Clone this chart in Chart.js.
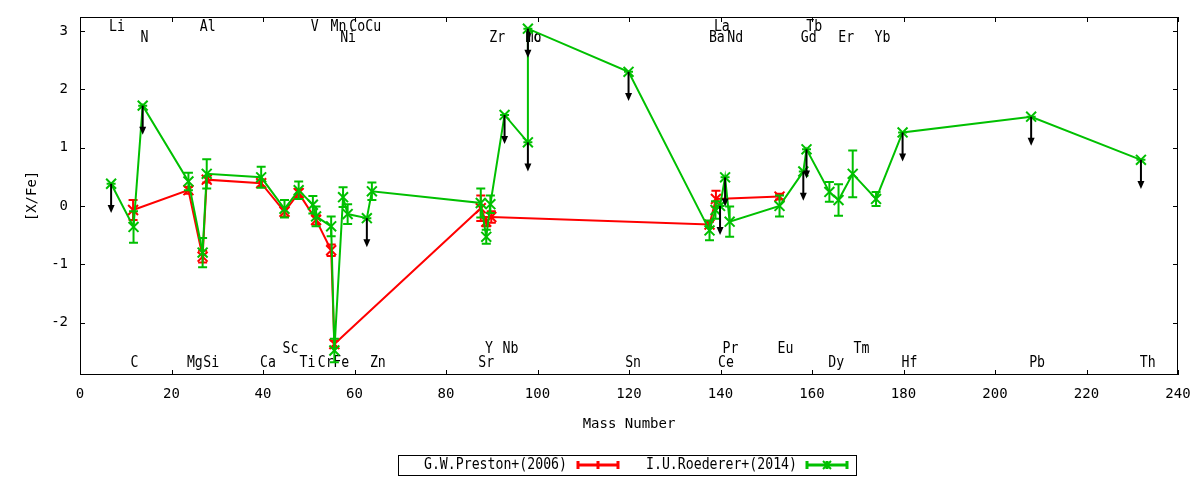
<!DOCTYPE html>
<html>
<head>
<meta charset="UTF-8">
<title>[X/Fe] vs Mass Number</title>
<script src="https://cdn.jsdelivr.net/npm/chart.js"></script>
<style>
  body { margin: 0; background: #fff; }
  #wrap { width: 1200px; height: 480px; }
</style>
</head>
<body>
<div id="wrap"><canvas id="chart"></canvas></div>
<script>
  // G.W.Preston+(2006)
  const prestonMass = [11.6, 23.7, 26.8, 27.7, 39.6, 44.7, 47.8, 51.6, 54.9, 55.6, 87.6, 88.8, 89.9, 137.6, 139.0, 152.9];
  const prestonVal  = [-0.07, 0.27, -0.87, 0.45, 0.39, -0.10, 0.22, -0.24, -0.76, -2.37, -0.04, -0.27, -0.19, -0.32, 0.12, 0.16];
  const prestonErr  = [0.17, 0.06, 0.10, 0.05, 0.06, 0.08, 0.07, 0.08, 0.10, 0.06, 0.22, 0.08, 0.10, 0.05, 0.14, 0.05];

  // I.U.Roederer+(2014)
  const roedMass  = [6.8, 11.7, 13.7, 23.7, 26.8, 27.7, 39.6, 44.7, 47.8, 50.9, 51.6, 54.9, 55.6, 57.5, 58.5, 62.7, 63.8, 87.6, 88.8, 89.7,
                     92.8, 97.9, 97.9, 119.9, 137.6, 138.9, 139.9, 141.0, 142.0, 152.9, 158.1, 158.8, 163.8, 165.8, 168.9, 174.0, 179.8, 207.9, 231.9];
  const roedVal   = [0.38, -0.36, 1.72, 0.42, -0.80, 0.55, 0.49, -0.05, 0.27, 0.02, -0.18, -0.35, -2.48, 0.15, -0.14, -0.21, 0.25, 0.05, -0.53, 0.03,
                     1.56, 1.09, 3.04, 2.30, -0.42, -0.07, 0.00, 0.49, -0.27, 0.00, 0.59, 0.97, 0.24, 0.10, 0.55, 0.12, 1.26, 1.53, 0.79];
  const roedErr   = [0, 0.27, 0, 0.15, 0.25, 0.25, 0.18, 0.15, 0.15, 0.15, 0.17, 0.17, 0.20, 0.17, 0.17, 0, 0.15, 0.25, 0.12, 0.15,
                     0, 0, 0, 0, 0.17, 0.15, 0, 0, 0.26, 0.18, 0, 0, 0.17, 0.27, 0.40, 0.12, 0, 0, 0];
  const roedUpper = [1, 0, 1, 0, 0, 0, 0, 0, 0, 0, 0, 0, 0, 0, 0, 1, 0, 0, 0, 0,
                     1, 1, 1, 1, 0, 0, 1, 1, 0, 0, 1, 1, 0, 0, 0, 0, 1, 1, 1];
  const upperArrow = 0.5;

  // element names along top and bottom of the frame
  const topNames1 = ['Li', 'Al', 'V', 'Mn', 'Co', 'Cu', 'La', 'Tb'];
  const topMass1  = [8.1, 27.9, 51.3, 56.5, 60.6, 64.1, 140.3, 160.5];
  const topNames2 = ['N', 'Ni', 'Zr', 'Mo', 'Tc', 'Ba', 'Nd', 'Gd', 'Er', 'Yb'];
  const topMass2  = [14.1, 58.6, 91.2, 99.1, 99.1, 139.2, 143.2, 159.3, 167.5, 175.4];
  const botNames1 = ['Sc', 'Y', 'Nb', 'Pr', 'Eu', 'Tm'];
  const botMass1  = [46.0, 89.4, 94.1, 142.2, 154.2, 170.8];
  const botNames2 = ['C', 'Mg', 'Si', 'Ca', 'Ti', 'Cr', 'Fe', 'Zn', 'Sr', 'Sn', 'Ce', 'Dy', 'Hf', 'Pb', 'Th'];
  const botMass2  = [11.9, 25.1, 28.7, 41.1, 49.7, 53.7, 57.1, 65.1, 88.8, 120.9, 141.2, 165.3, 181.3, 209.2, 233.4];

  const RED = '#ff0000';
  const GREEN = '#00c000';
  const MONO = "'DejaVu Sans Mono', monospace";

  function monoText(ctx, text, x, y, align) {
    ctx.save();
    ctx.translate(x, y);
    ctx.scale(0.88, 1);
    ctx.font = '15px ' + MONO;
    ctx.fillStyle = '#000';
    ctx.textAlign = align;
    ctx.textBaseline = 'middle';
    ctx.fillText(text, 0, 0);
    ctx.restore();
  }

  const frame = {
    id: 'frame',
    beforeDatasetsDraw(chart) {
      const {ctx, chartArea: a, scales: {x, y}} = chart;
      ctx.save();
      ctx.strokeStyle = '#000';
      ctx.lineWidth = 1;
      ctx.strokeRect(a.left + 0.5, a.top + 0.5, a.right - a.left - 1, a.bottom - a.top - 1);
      ctx.beginPath();
      x.ticks.forEach(t => {
        const px = Math.round(x.getPixelForValue(t.value)) + 0.5;
        ctx.moveTo(px, a.bottom); ctx.lineTo(px, a.bottom - 5);
        ctx.moveTo(px, a.top); ctx.lineTo(px, a.top + 5);
      });
      y.ticks.forEach(t => {
        const py = Math.round(y.getPixelForValue(t.value)) + 0.5;
        ctx.moveTo(a.left, py); ctx.lineTo(a.left + 5, py);
        ctx.moveTo(a.right, py); ctx.lineTo(a.right - 5, py);
      });
      ctx.stroke();
      ctx.restore();

      const rows = [
        [topNames1, topMass1, a.top + 10],
        [topNames2, topMass2, a.top + 21],
        [botNames1, botMass1, a.bottom - 26],
        [botNames2, botMass2, a.bottom - 12]
      ];
      rows.forEach(([names, mass, py]) => {
        names.forEach((n, i) => monoText(ctx, n, x.getPixelForValue(mass[i]), py, 'center'));
      });
    }
  };

  const errorBars = {
    id: 'errorBars',
    beforeDatasetDraw(chart, args) {
      const ds = chart.data.datasets[args.index];
      const {ctx, scales: {x, y}} = chart;
      ctx.save();
      ctx.strokeStyle = ds.borderColor;
      ctx.lineWidth = 2;
      ctx.beginPath();
      ds.data.forEach((p, i) => {
        const e = ds.errors[i];
        const px = x.getPixelForValue(p.x);
        const y1 = y.getPixelForValue(p.y + e);
        const y2 = y.getPixelForValue(p.y - e);
        ctx.moveTo(px, y1); ctx.lineTo(px, y2);
        ctx.moveTo(px - 4.5, y1); ctx.lineTo(px + 4.5, y1);
        ctx.moveTo(px - 4.5, y2); ctx.lineTo(px + 4.5, y2);
      });
      ctx.stroke();
      ctx.restore();
    }
  };

  const upperLimits = {
    id: 'upperLimits',
    afterDatasetsDraw(chart) {
      const {ctx, scales: {x, y}} = chart;
      ctx.save();
      ctx.strokeStyle = '#000';
      ctx.fillStyle = '#000';
      ctx.lineWidth = 2;
      roedMass.forEach((m, i) => {
        if (!roedUpper[i]) return;
        const px = x.getPixelForValue(m);
        const y0 = y.getPixelForValue(roedVal[i]);
        const y1 = y.getPixelForValue(roedVal[i] - upperArrow);
        ctx.beginPath();
        ctx.moveTo(px, y0); ctx.lineTo(px, y1 - 5);
        ctx.stroke();
        ctx.beginPath();
        ctx.moveTo(px - 3.5, y1 - 8);
        ctx.lineTo(px + 3.5, y1 - 8);
        ctx.lineTo(px, y1);
        ctx.closePath();
        ctx.fill();
      });
      ctx.restore();
    }
  };

  function legendSample(ctx, x0, x1, yc, color, cross) {
    ctx.save();
    ctx.strokeStyle = color;
    ctx.lineWidth = 3;
    ctx.beginPath();
    ctx.moveTo(x0, yc); ctx.lineTo(x1, yc);
    const xm = (x0 + x1) / 2;
    [x0 + 1, xm, x1 - 1].forEach(xx => { ctx.moveTo(xx, yc - 4); ctx.lineTo(xx, yc + 4); });
    ctx.stroke();
    if (cross) {
      ctx.lineWidth = 2;
      ctx.beginPath();
      ctx.moveTo(xm - 4, yc - 4); ctx.lineTo(xm + 4, yc + 4);
      ctx.moveTo(xm + 4, yc - 4); ctx.lineTo(xm - 4, yc + 4);
      ctx.stroke();
    }
    ctx.restore();
  }

  const keyBox = {
    id: 'keyBox',
    afterDraw(chart) {
      const {ctx} = chart;
      ctx.save();
      ctx.strokeStyle = '#000';
      ctx.lineWidth = 1;
      ctx.strokeRect(398.5, 455.5, 458, 20);
      ctx.restore();
      monoText(ctx, 'G.W.Preston+(2006)', 567, 465, 'right');
      legendSample(ctx, 577, 619, 465, RED, false);
      monoText(ctx, 'I.U.Roederer+(2014)', 797, 465, 'right');
      legendSample(ctx, 806, 848, 465, GREEN, true);
    }
  };

  const preston = prestonMass.map((m, i) => ({x: m, y: prestonVal[i]}));
  const roederer = roedMass.map((m, i) => ({x: m, y: roedVal[i]}));

  new Chart(document.getElementById('chart'), {
    type: 'scatter',
    data: {
      datasets: [
        {
          label: 'G.W.Preston+(2006)', data: preston, errors: prestonErr,
          borderColor: RED, backgroundColor: RED, showLine: true, borderWidth: 2,
          pointStyle: 'crossRot', pointRadius: 7, pointBorderWidth: 2, order: 2
        },
        {
          label: 'I.U.Roederer+(2014)', data: roederer, errors: roedErr,
          borderColor: GREEN, backgroundColor: GREEN, showLine: true, borderWidth: 2,
          pointStyle: 'crossRot', pointRadius: 7, pointBorderWidth: 2, order: 1
        }
      ]
    },
    options: {
      responsive: true,
      maintainAspectRatio: false,
      animation: false,
      layout: { padding: { top: 17, right: 22, left: 0, bottom: 0 } },
      plugins: { legend: { display: false }, tooltip: { enabled: false } },
      scales: {
        x: {
          type: 'linear', min: 0, max: 240,
          grid: { display: false, drawTicks: false },
          border: { display: false },
          ticks: { stepSize: 20, padding: 11, color: '#000', font: { family: MONO, size: 14 } },
          title: { display: true, text: 'Mass Number', color: '#000', font: { family: MONO, size: 14 }, padding: { top: 0, bottom: 47 } },
          afterFit(scale) {
            scale.height = 105;
            scale.paddingLeft = 0; scale.paddingRight = 0;
          }
        },
        y: {
          type: 'linear', min: -2.9, max: 3.24,
          grid: { display: false, drawTicks: false },
          border: { display: false },
          ticks: { stepSize: 1, includeBounds: false, padding: 12, color: '#000', font: { family: MONO, size: 14 } },
          title: { display: true, text: '[X/Fe]', color: '#000', font: { family: MONO, size: 14 }, padding: { top: 24, bottom: 0 } },
          afterFit(scale) {
            scale.width = 80;
            scale.paddingTop = 0; scale.paddingBottom = 0;
          }
        }
      }
    },
    plugins: [frame, errorBars, upperLimits, keyBox]
  });
</script>
</body>
</html>
